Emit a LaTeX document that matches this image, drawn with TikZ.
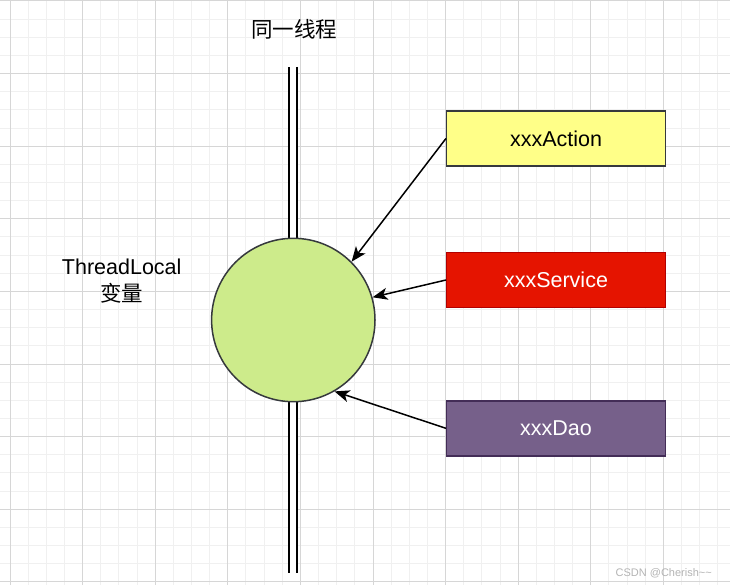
\documentclass[tikz,border=0pt]{standalone}
\usepackage{fontspec}
\setmainfont{Liberation Sans}
\newfontfamily\cjk{Noto Sans CJK SC}
\usetikzlibrary{arrows.meta}
\definecolor{gminor}{HTML}{F0F0F0}
\definecolor{gmajor}{HTML}{D6D6D6}
\definecolor{edgegray}{HTML}{36393D}
\definecolor{actfill}{HTML}{FFFF88}
\definecolor{srvfill}{HTML}{E51400}
\definecolor{srvdraw}{HTML}{B20000}
\definecolor{daofill}{HTML}{76608A}
\definecolor{daodraw}{HTML}{432D57}
\definecolor{circfill}{HTML}{CDEB8B}
\definecolor{wmark}{HTML}{B4B4B4}
\tikzset{
  minorline/.style={draw=gminor, line width=1pt},
  majorline/.style={draw=gmajor, line width=1pt},
  boxnode/.style={rectangle, minimum width=218.6pt, minimum height=55pt, line width=1.5pt, inner sep=0pt,
    font=\fontsize{21.5}{26}\selectfont},
  txt/.style={font=\fontsize{21.5}{27}\selectfont, align=center, inner sep=0pt},
  arr/.style={draw=black, line width=1.5pt, -{Stealth[length=15pt, width=12pt, inset=4pt]}},
}
\begin{document}
\begin{tikzpicture}[x=1pt, y=-1pt]
\useasboundingbox (0,0) rectangle (730,585);
\fill[white] (0,0) rectangle (730,585);
% grid
\foreach \i in {-1,...,40} {
  \draw[minorline] ({10+18.15*\i},0) -- ({10+18.15*\i},585);
  \draw[minorline] (0,{1+18.15*\i}) -- (730,{1+18.15*\i});
}
\foreach \i in {0,...,10} {
  \draw[majorline] ({10+72.6*\i},0) -- ({10+72.6*\i},585);
  \draw[majorline] (0,{1+72.6*\i}) -- (730,{1+72.6*\i});
}
% thread double line
\coordinate (ttop) at (293,67);
\coordinate (tbot) at (293,573);
\draw[line width=2pt, double=white, double distance=5.4pt] (ttop) -- (tbot);
% circle
\node[circle, minimum size=163.4pt, inner sep=0pt, draw=edgegray, fill=circfill, line width=1.5pt] (c) at (293.3,320) {};
% boxes
\node[boxnode, draw=edgegray, fill=actfill, text=black] (act) at (556,138.5) {xxxAction};
\node[boxnode, draw=srvdraw, fill=srvfill, text=white] (srv) at (556,280) {xxxService};
\node[boxnode, draw=daodraw, fill=daofill, text=white] (dao) at (556,428.3) {xxxDao};
% arrows
\draw[arr] (act.west) -- (c.45);
\draw[arr] (srv.west) -- (c.16);
\draw[arr] (dao.west) -- (c.-60);
% labels
\node[txt] (thr) at (294,29.5) {\cjk 同一线程};
\node[txt] (tl) at (121.7,281.5) {ThreadLocal\\{\cjk 变量}};
\node[anchor=east, inner sep=0pt, text=wmark, font=\fontsize{11}{13}\selectfont] (wm) at (712,573) {CSDN @Cherish\textasciitilde\textasciitilde};
\end{tikzpicture}
\end{document}
